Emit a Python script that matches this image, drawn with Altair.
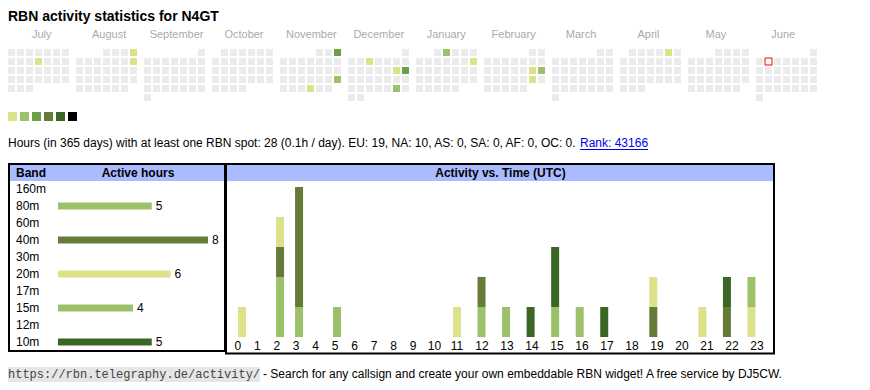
import altair as alt
import pandas as pd

# ---------------- data ----------------
TITLE = "RBN activity statistics for N4GT"
months = ["July", "August", "September", "October", "November", "December",
          "January", "February", "March", "April", "May", "June"]
period_start = "2024-07-01"
period_end = "2025-06-30"
today = "2025-06-03"
active_days = ["2024-07-11", "2024-08-04", "2024-08-11", "2024-11-03", "2024-11-24",
               "2024-11-28", "2024-12-04", "2024-12-14", "2024-12-15", "2024-12-28",
               "2025-01-02", "2025-01-12", "2025-02-15", "2025-02-16", "2025-02-22",
               "2025-04-05"]
active_levels = [1, 1, 1, 3, 2, 1, 1, 1, 3, 2, 2, 1, 1, 2, 1, 1]
legend_levels = [1, 2, 3, 4, 5, 6]

INFO = ("Hours (in 365 days) with at least one RBN spot: 28 (0.1h / day). "
        "EU: 19, NA: 10, AS: 0, SA: 0, AF: 0, OC: 0.")
RANK = "Rank: 43166"

bands = ["160m", "80m", "60m", "40m", "30m", "20m", "17m", "15m", "12m", "10m"]
band_hours = [0, 5, 0, 8, 0, 6, 0, 4, 0, 5]

time_hours = [0, 2, 2, 2, 3, 3, 5, 11, 12, 12, 13, 14, 15, 15, 16, 17, 19, 19, 21, 22, 22, 23, 23]
time_bands = ["20m", "80m", "40m", "20m", "80m", "40m", "80m", "20m", "80m", "40m", "15m",
              "10m", "15m", "10m", "15m", "10m", "40m", "20m", "20m", "40m", "10m", "20m", "15m"]
time_counts = [1, 2, 1, 1, 1, 4, 1, 1, 1, 1, 1, 1, 1, 2, 1, 1, 1, 1, 1, 1, 1, 1, 1]
hour_labels = list(range(24))

FOOT_URL = "https://rbn.telegraphy.de/activity/"
FOOT_TEXT = "- Search for any callsign and create your own embeddable RBN widget! A free service by DJ5CW."

# ---------------- styles ----------------
level_colors = ["#ebebeb", "#dce28a", "#9dc16a", "#6aa046", "#667a3a", "#3c6624", "#000000"]
band_color_domain = ["80m", "40m", "20m", "15m", "10m"]
band_color_range = ["#9dc16a", "#667a3a", "#dce28a", "#9dc16a", "#3c6624"]
HEAD_BLUE = "#aabbff"
FONT = "Liberation Sans"
OFF = 8


def P(v):
    return v - OFF


# ---------------- tables ----------------
dates = pd.date_range(period_start, period_end, freq="D")
cal = pd.DataFrame({"date": dates})
cal["m"] = (cal["date"].dt.year - 2024) * 12 + cal["date"].dt.month - 7
cal["wd"] = cal["date"].dt.weekday
first_wd = cal["date"].apply(lambda d: d.replace(day=1).weekday())
cal["row"] = (cal["date"].dt.day - 1 + first_wd) // 7
lvl = dict(zip(pd.to_datetime(active_days), active_levels))
cal["level"] = cal["date"].map(lambda d: lvl.get(d, 0))
cal["date"] = cal["date"].dt.strftime("%Y-%m-%d")
today_df = cal[cal["date"] == today]

months_df = pd.DataFrame({"m": list(range(12)), "name": months})
legend_df = pd.DataFrame({"level": legend_levels})
band_df = pd.DataFrame({"band": bands, "hours": band_hours})
time_df = pd.DataFrame({"hour": time_hours, "band": time_bands, "count": time_counts})
time_df["bidx"] = time_df["band"].map(lambda b: bands.index(b))
hours_df = pd.DataFrame({"hour": hour_labels})
one = pd.DataFrame({"a": [0]})

# ---------------- scales ----------------
cal_x = alt.Scale(domain=list(range(12)), range=[P(8), P(8 + 12 * 68 - 7)],
                  paddingInner=7 / 68, paddingOuter=0)
cal_xo = alt.Scale(domain=list(range(7)), paddingInner=2 / 9, paddingOuter=0)
cal_y = alt.Scale(domain=list(range(6)), range=[P(49), P(49 + 6 * 9 - 2)],
                  paddingInner=2 / 9, paddingOuter=0)
lvl_color = alt.Scale(domain=list(range(7)), range=level_colors)
leg_x = alt.Scale(domain=legend_levels, range=[P(8), P(8 + 6 * 12 - 3)],
                  paddingInner=3 / 12, paddingOuter=0)
band_y = alt.Scale(domain=bands, range=[P(180.5), P(350.5)],
                   paddingInner=10 / 17, paddingOuter=5 / 17)
band_x = alt.Scale(domain=[0, 8], range=[P(58), P(208)], nice=False, zero=True)
band_color = alt.Scale(domain=band_color_domain, range=band_color_range)
hour_x = alt.Scale(domain=[0, 9, 10, 11, 23], range=[P(237.8), P(413), P(434.5), P(457), P(757)],
                   nice=False, zero=False)
time_y = alt.Scale(domain=[0, 5], range=[P(337), P(187)], nice=False, zero=True)

txt = dict(font=FONT, fontSize=12, color="black")

# ---------------- layers ----------------
title = alt.Chart(pd.DataFrame({"t": [TITLE]})).mark_text(
    align="left", baseline="alphabetic", font=FONT, fontSize=14, fontWeight="bold", color="black"
).encode(x=alt.value(P(8)), y=alt.value(P(21)), text="t:N")

month_lbl = alt.Chart(months_df).mark_text(
    baseline="alphabetic", font=FONT, fontSize=11, color="#aaaaaa"
).encode(x=alt.X("m:O", scale=cal_x, axis=None), y=alt.value(P(38)), text="name:N")

cells = alt.Chart(cal).mark_rect().encode(
    x=alt.X("m:O", scale=cal_x, axis=None),
    xOffset=alt.XOffset("wd:O", scale=cal_xo),
    y=alt.Y("row:O", scale=cal_y, axis=None),
    color=alt.Color("level:O", scale=lvl_color, legend=None),
)

today_box = alt.Chart(today_df).mark_rect(fill="white", stroke="red", strokeWidth=1).encode(
    x=alt.X("m:O", scale=cal_x, axis=None),
    xOffset=alt.XOffset("wd:O", scale=cal_xo),
    y=alt.Y("row:O", scale=cal_y, axis=None),
)

legend = alt.Chart(legend_df).mark_rect().encode(
    x=alt.X("level:O", scale=leg_x, axis=None),
    y=alt.value(P(112)), y2=alt.value(P(121)),
    color=alt.Color("level:O", scale=lvl_color, legend=None),
)

info = alt.Chart(pd.DataFrame({"t": [INFO]})).mark_text(
    align="left", baseline="alphabetic", **txt
).encode(x=alt.value(P(8)), y=alt.value(P(147)), text="t:N")

rank = alt.Chart(pd.DataFrame({"t": [RANK]})).mark_text(
    align="left", baseline="alphabetic", font=FONT, fontSize=12, color="#0000ee"
).encode(x=alt.value(P(580)), y=alt.value(P(147)), text="t:N")

rank_ul = alt.Chart(one).mark_rule(color="#0000ee", strokeWidth=1).encode(
    x=alt.value(P(580)), x2=alt.value(P(648)), y=alt.value(P(149.5)))

# band table
band_head = alt.Chart(one).mark_rect(color=HEAD_BLUE).encode(
    x=alt.value(P(10)), x2=alt.value(P(224)), y=alt.value(P(165)), y2=alt.value(P(181)))
band_head_t1 = alt.Chart(pd.DataFrame({"t": ["Band"]})).mark_text(
    align="left", baseline="middle", fontWeight="bold", **txt
).encode(x=alt.value(P(16)), y=alt.value(P(173)), text="t:N")
band_head_t2 = alt.Chart(pd.DataFrame({"t": ["Active hours"]})).mark_text(
    align="center", baseline="middle", fontWeight="bold", **txt
).encode(x=alt.value(P(138)), y=alt.value(P(173)), text="t:N")

band_lbl = alt.Chart(band_df).mark_text(align="left", baseline="middle", **txt).encode(
    x=alt.value(P(16)), y=alt.Y("band:N", scale=band_y, axis=None), text="band:N")
band_bars = alt.Chart(band_df).transform_filter("datum.hours > 0").mark_bar().encode(
    x=alt.X("hours:Q", scale=band_x, axis=None),
    y=alt.Y("band:N", scale=band_y, axis=None),
    color=alt.Color("band:N", scale=band_color, legend=None),
)
band_vals = alt.Chart(band_df).transform_filter("datum.hours > 0").mark_text(
    align="left", baseline="middle", dx=4, **txt
).encode(
    x=alt.X("hours:Q", scale=band_x, axis=None),
    y=alt.Y("band:N", scale=band_y, axis=None),
    text="hours:Q",
)
band_frame = alt.Chart(one).mark_rect(fillOpacity=0, stroke="black", strokeWidth=2).encode(
    x=alt.value(P(9)), x2=alt.value(P(225)), y=alt.value(P(164)), y2=alt.value(P(351)))

# time chart
time_head = alt.Chart(one).mark_rect(color=HEAD_BLUE).encode(
    x=alt.value(P(227)), x2=alt.value(P(773)), y=alt.value(P(165)), y2=alt.value(P(181)))
time_head_t = alt.Chart(pd.DataFrame({"t": ["Activity vs. Time (UTC)"]})).mark_text(
    align="center", baseline="middle", fontWeight="bold", **txt
).encode(x=alt.value(P(500.5)), y=alt.value(P(173)), text="t:N")
time_bars = alt.Chart(time_df).mark_bar(size=8).encode(
    x=alt.X("hour:Q", scale=hour_x, axis=None),
    y=alt.Y("count:Q", scale=time_y, axis=None, stack="zero"),
    color=alt.Color("band:N", scale=band_color, legend=None),
    order=alt.Order("bidx:Q", sort="ascending"),
)
hour_lbl = alt.Chart(hours_df).mark_text(align="center", baseline="middle", **txt).encode(
    x=alt.X("hour:Q", scale=hour_x, axis=None), y=alt.value(P(346)), text="hour:N")
time_frame = alt.Chart(one).mark_rect(fillOpacity=0, stroke="black", strokeWidth=2).encode(
    x=alt.value(P(226)), x2=alt.value(P(774)), y=alt.value(P(164)), y2=alt.value(P(353.5)))

# footer
foot_bg = alt.Chart(one).mark_rect(color="#e6e6e6").encode(
    x=alt.value(P(8)), x2=alt.value(P(260)), y=alt.value(P(367)), y2=alt.value(P(382)))
foot_url = alt.Chart(pd.DataFrame({"t": [FOOT_URL]})).mark_text(
    align="left", baseline="alphabetic", font="Liberation Mono", fontSize=12, color="#444444"
).encode(x=alt.value(P(8)), y=alt.value(P(378)), text="t:N")
foot_txt = alt.Chart(pd.DataFrame({"t": [FOOT_TEXT]})).mark_text(
    align="left", baseline="alphabetic", **txt
).encode(x=alt.value(P(263)), y=alt.value(P(378)), text="t:N")

chart = alt.layer(
    title, month_lbl, cells, today_box, legend, info, rank, rank_ul,
    band_head, band_head_t1, band_head_t2, band_lbl, band_bars, band_vals, band_frame,
    time_head, time_head_t, time_bars, hour_lbl, time_frame,
    foot_bg, foot_url, foot_txt,
).resolve_scale(
    x="independent", y="independent", color="independent"
).properties(
    width=854, height=374, padding=0, autosize=alt.AutoSizeParams(type="none"),
    background="white",
).configure_view(stroke=None)

chart.save("out.html", embed_options={"renderer": "svg", "actions": False})
